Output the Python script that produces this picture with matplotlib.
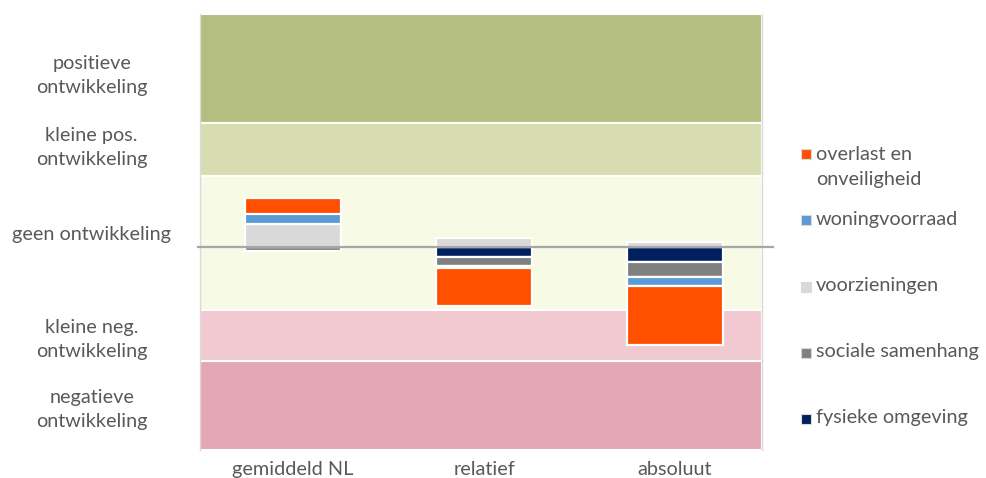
import matplotlib
matplotlib.use("Agg")
from matplotlib import pyplot as plt
from matplotlib.patches import Rectangle

categorieen = ["gemiddeld NL", "relatief", "absoluut"]
series = ["fysieke omgeving", "sociale samenhang", "voorzieningen",
          "woningvoorraad", "overlast en\nonveiligheid"]
fysieke = [0.0, -0.95, -1.5]
sociale = [-0.4, -0.95, -1.45]
voorzieningen = [2.3, 0.9, 0.45]
woningvoorraad = [1.05, -0.2, -0.9]
overlast = [1.55, -3.75, -5.95]
kleuren = ["#002060", "#808080", "#D9D9D9", "#5B9BD5", "#FF5000"]

# achtergrondbanden
band_randen = [23.3, 12.4, 7.1, -6.3, -11.4, -20.3]
band_kleuren = ["#B4BE7E", "#D7DDB0", "#F7FAE4", "#F1C9D1", "#E4A8B4"]
band_namen = ["positieve\nontwikkeling", "kleine pos.\nontwikkeling",
              "geen ontwikkeling", "kleine neg.\nontwikkeling",
              "negatieve\nontwikkeling"]
label_posities = [17.6, 10.4, 1.4, -8.8, -15.8]

tekstkleur = "#595959"
fs = 14.3
plt.rcParams["font.family"] = ["Lato", "DejaVu Sans"]

fig = plt.figure(figsize=(9.86, 4.78), dpi=100)
ax = fig.add_axes([200/986, 28/478, 562/986, 436/478])

for i in range(len(band_kleuren)):
    ax.axhspan(band_randen[i+1], band_randen[i], color=band_kleuren[i],
               ec="white", lw=1.5, zorder=0)

x = range(len(categorieen))
waarden = [fysieke, sociale, voorzieningen, woningvoorraad, overlast]
pos = [0.0] * 3
neg = [0.0] * 3
for naam, vals, kleur in zip(series, waarden, kleuren):
    bottoms = [pos[j] if v >= 0 else neg[j] for j, v in enumerate(vals)]
    ax.bar(x, vals, bottom=bottoms, width=0.5, color=kleur,
           edgecolor="white", linewidth=1.6, zorder=2, label=naam)
    for j, v in enumerate(vals):
        if v >= 0:
            pos[j] += v
        else:
            neg[j] += v

ax.plot([-0.5, 2.51], [0, 0], color="#A6A6A6", lw=1.6, zorder=3,
        clip_on=False)

ax.set_xlim(-0.487, 2.455)
ax.set_ylim(band_randen[-1], band_randen[0])
ax.set_xticks(list(x))
ax.set_xticklabels(categorieen, fontsize=fs, color=tekstkleur)
ax.set_yticks(label_posities)
ax.set_yticklabels(band_namen, fontsize=fs, color=tekstkleur,
                   ha="center", linespacing=1.45)
ax.tick_params(axis="y", length=0, pad=78)
ax.tick_params(axis="x", length=0, pad=8)
for s in ["top", "bottom"]:
    ax.spines[s].set_visible(False)
for s in ["left", "right"]:
    ax.spines[s].set_color("#D9D9D9")
    ax.spines[s].set_linewidth(1.0)

# legenda (handmatig, volgorde zoals Excel: laatste serie bovenaan)
leg_y = [153, 219, 286, 352, 418]
for naam, kleur, yy in zip(series[::-1], kleuren[::-1], leg_y):
    fig.add_artist(Rectangle((801/986, 1 - (yy + 6)/478), 10/986, 10/478,
                             transform=fig.transFigure, fc=kleur,
                             ec="#D9D9D9", lw=0.8))
    if "\n" in naam:
        fig.text(816/986, 1 - (yy - 7)/478, naam, fontsize=fs,
                 color=tekstkleur, va="top", ha="left", linespacing=1.6)
    else:
        fig.text(816/986, 1 - yy/478, naam, fontsize=fs, color=tekstkleur,
                 va="center", ha="left")

fig.savefig("out.png", dpi=100)
